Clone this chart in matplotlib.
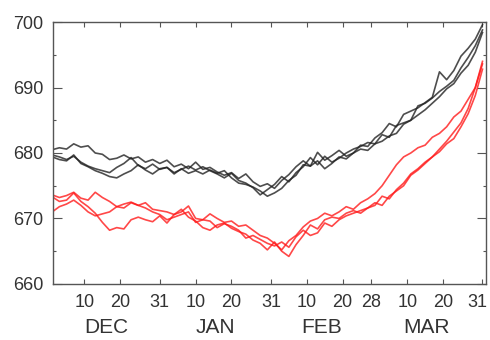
import matplotlib
matplotlib.use("Agg")
import matplotlib.pyplot as plt
import matplotlib.transforms as mtransforms

plt.rcParams['font.family'] = ['Liberation Sans', 'DejaVu Sans']

# days counted from Nov 30 (Dec 1 = 1, Mar 31 = 121), sampled every 2 days
days = list(range(1, 122, 2))

black1 = [680.5, 680.8, 680.6, 681.4, 680.9, 681.1, 680.0, 679.8, 679.0, 679.2,
          679.7, 679.1, 679.4, 678.6, 679.0, 678.4, 678.9, 677.9, 678.3, 677.6,
          678.6, 677.5, 677.8, 677.1, 676.6, 677.0, 676.1, 676.8, 675.6, 674.9,
          675.3, 674.6, 675.8, 676.7, 677.9, 678.8, 678.0, 680.1, 678.9, 679.6,
          680.4, 679.5, 680.0, 681.2, 681.0, 682.3, 683.1, 684.5, 684.0, 685.9,
          686.4, 686.9, 687.7, 688.5, 692.4, 691.2, 692.6, 694.8, 696.0, 697.4,
          699.6]
black2 = [679.7, 679.4, 679.0, 679.5, 678.6, 678.0, 677.6, 677.3, 677.0, 677.8,
          678.4, 679.3, 678.1, 677.6, 678.3, 677.5, 677.8, 677.0, 677.5, 678.0,
          677.4, 677.9, 677.3, 676.8, 676.2, 676.9, 675.8, 675.4, 674.7, 673.6,
          674.4, 675.2, 676.4, 675.6, 677.0, 677.9, 679.3, 678.2, 679.5, 678.6,
          679.2, 680.0, 680.6, 681.0, 681.6, 681.4, 682.8, 682.4, 684.2, 684.6,
          685.0, 687.2, 687.6, 688.4, 689.4, 690.2, 691.1, 693.0, 694.6, 696.4,
          698.8]
black3 = [679.4, 679.0, 678.8, 679.7, 678.4, 677.9, 677.3, 676.9, 676.4, 676.2,
          676.8, 677.3, 678.2, 677.4, 676.8, 677.6, 677.8, 676.8, 677.6, 676.9,
          677.3, 676.8, 677.4, 676.9, 677.3, 676.2, 675.4, 675.2, 674.8, 674.2,
          673.4, 673.9, 674.6, 675.8, 676.6, 678.2, 678.0, 678.8, 677.6, 678.4,
          679.4, 679.1, 680.0, 680.6, 680.4, 681.4, 681.8, 682.6, 683.0, 684.4,
          685.0, 685.8, 686.6, 687.6, 688.6, 689.8, 690.6, 692.2, 693.4, 695.4,
          698.4]

red1 = [673.6, 673.2, 673.5, 674.0, 673.1, 672.8, 674.0, 673.2, 672.6, 671.8,
        672.2, 672.5, 672.0, 672.4, 671.4, 671.2, 671.0, 670.6, 671.0, 671.9,
        670.0, 669.8, 670.7, 670.0, 669.4, 669.6, 668.8, 669.0, 668.2, 667.4,
        667.0, 666.2, 665.2, 666.6, 667.4, 668.7, 669.6, 670.0, 670.8, 670.4,
        671.0, 671.8, 671.4, 672.4, 673.0, 673.8, 675.0, 676.6, 678.2, 679.4,
        680.0, 680.8, 681.2, 682.4, 683.0, 684.0, 685.5, 686.4, 688.2, 690.0,
        693.6]
red2 = [673.3, 672.6, 672.8, 673.9, 672.6, 671.8, 670.8, 669.4, 668.2, 668.6,
        668.4, 669.8, 670.2, 669.8, 669.5, 670.4, 669.3, 670.6, 671.4, 670.2,
        669.6, 668.6, 668.2, 669.0, 669.3, 668.5, 668.0, 667.6, 666.7, 666.2,
        665.2, 666.4, 665.0, 664.2, 666.0, 667.4, 669.0, 668.4, 669.8, 670.2,
        670.0, 670.8, 671.2, 670.8, 671.6, 672.0, 673.4, 673.0, 674.4, 675.4,
        676.8, 677.6, 678.6, 679.4, 680.6, 681.8, 683.2, 684.6, 686.8, 690.0,
        694.0]
red3 = [671.0, 671.8, 672.2, 672.8, 672.0, 671.0, 670.4, 670.7, 671.0, 671.8,
        671.6, 672.4, 672.0, 671.6, 671.0, 670.6, 669.8, 670.2, 670.6, 671.0,
        669.4, 669.8, 669.6, 668.6, 669.2, 668.8, 668.2, 667.0, 667.4, 666.8,
        666.2, 665.8, 666.4, 665.6, 667.2, 668.2, 667.4, 667.8, 669.3, 668.8,
        669.8, 670.4, 670.8, 671.2, 671.6, 672.4, 672.0, 673.4, 674.2, 675.0,
        676.6, 677.4, 678.4, 679.4, 680.2, 681.4, 682.2, 684.0, 686.0, 688.8,
        692.8]

tick_days = [10, 20, 31, 41, 51, 62, 72, 82, 90, 100, 110, 121]
tick_labels = ['10', '20', '31', '10', '20', '31', '10', '20', '28', '10', '20', '31']
month_ends = [31, 62, 90, 121]
month_names = ['DEC', 'JAN', 'FEB', 'MAR']
month_centers = [16, 46.5, 76, 105.5]

fig = plt.figure(figsize=(4.9, 3.4), dpi=100)
ax = fig.add_axes([0.108, 0.165, 0.884, 0.770])

for s in [black1, black2, black3]:
    ax.plot(days, s, color='#222222', alpha=0.8, lw=1.2)
for s in [red1, red2, red3]:
    ax.plot(days, s, color='#ff1a1a', alpha=0.8, lw=1.2)

ax.set_xlim(1.2, 122)
ax.set_ylim(660, 700)

ax.set_xticks(tick_days)
ax.set_xticklabels(tick_labels)
ax.set_xticks(month_ends, minor=True)
ax.set_yticks([660, 670, 680, 690, 700])
ax.set_yticks([665, 675, 685, 695], minor=True)

ax.tick_params(axis='x', which='major', direction='in', top=True, length=3.6,
               width=0.8, color='#555555', pad=7, labelsize=13, labelcolor='#333333')
ax.tick_params(axis='x', which='minor', direction='in', top=True, length=10,
               width=0.8, color='#555555')
ax.tick_params(axis='y', which='major', direction='in', right=True, length=6.5,
               width=0.8, color='#555555', pad=7, labelsize=13, labelcolor='#333333')
ax.tick_params(axis='y', which='minor', direction='in', right=True, length=2.5,
               width=0.8, color='#555555')

# nudge the last "31" left so it stays inside the figure
last = ax.get_xticklabels()[-1]
last.set_transform(last.get_transform() +
                   mtransforms.ScaledTranslation(-4 / 72, 0, fig.dpi_scale_trans))

for sp in ax.spines.values():
    sp.set_color('#555555')
    sp.set_linewidth(1.0)

trans = mtransforms.blended_transform_factory(ax.transData, ax.transAxes)
for c, name in zip(month_centers, month_names):
    ax.text(c, -0.168, name, transform=trans, ha='center', va='center',
            fontsize=15, color='#333333')

fig.savefig('out.png', dpi=100)
